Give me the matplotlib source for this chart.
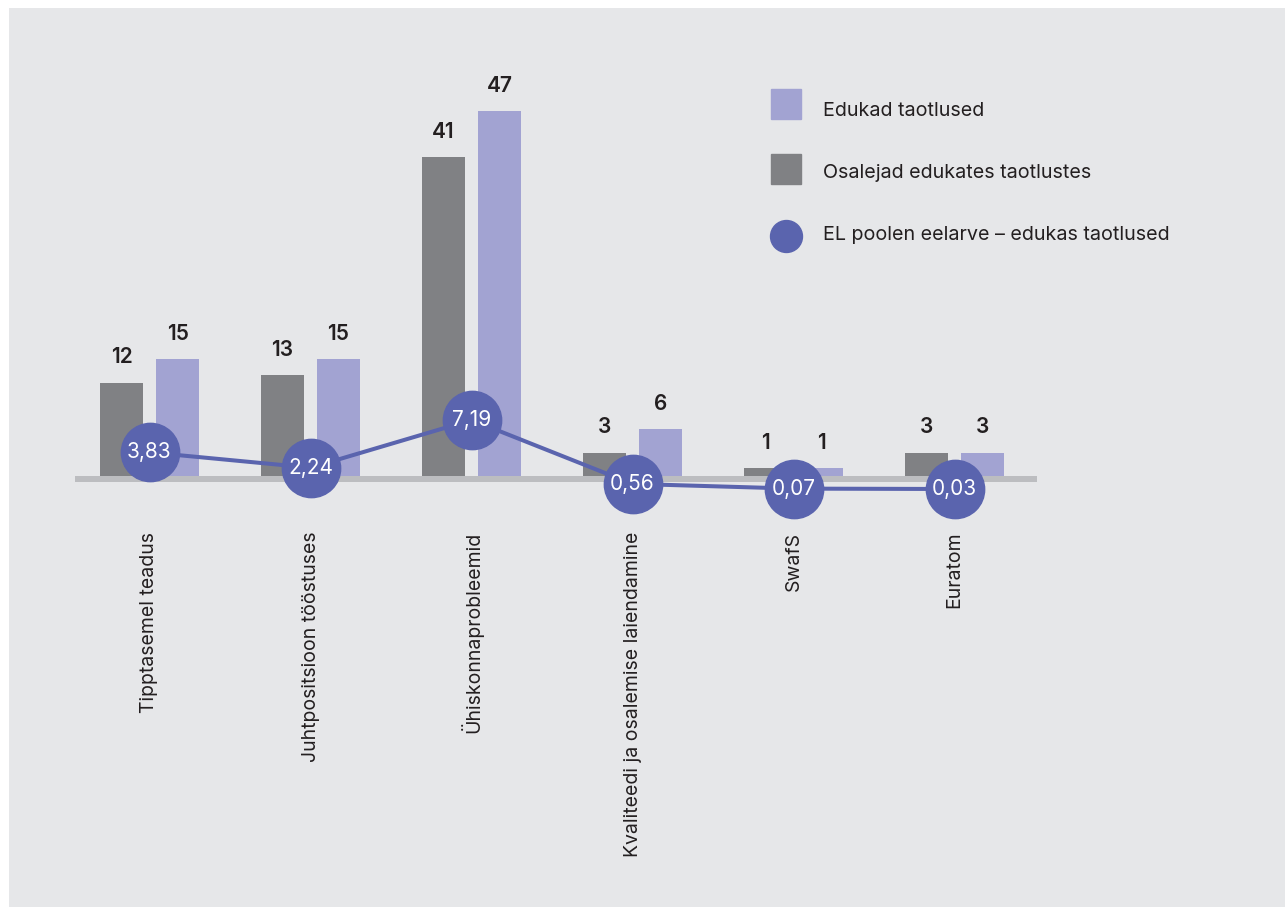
import matplotlib
matplotlib.use("Agg")
import matplotlib.pyplot as plt
from matplotlib.lines import Line2D
from matplotlib.patches import Rectangle
import numpy as np

categories = ["Tipptasemel teadus", "Juhtpositsioon tööstuses", "Ühiskonnaprobleemid",
              "Kvaliteedi ja osalemise laiendamine", "SwafS", "Euratom"]
osalejad = [12, 13, 41, 3, 1, 3]          # gray bars
edukad = [15, 15, 47, 6, 1, 3]            # lavender bars
eelarve = [3.83, 2.24, 7.19, 0.56, 0.07, 0.03]  # line / circles
eelarve_labels = ["3,83", "2,24", "7,19", "0,56", "0,07", "0,03"]

legend_labels = ["Edukad taotlused", "Osalejad edukates taotlustes",
                 "EL poolen eelarve – edukas taotlused"]

BG = "#e6e7e9"
GRAY = "#808184"
LAV = "#a2a3d2"
BLUE = "#5a64ae"
TXT = "#231f20"
FONT = ["Inter", "DejaVu Sans"]

plt.rcParams["font.family"] = FONT

W, H = 1285, 907
fig = plt.figure(figsize=(W / 100, H / 100), dpi=100)
fig.patch.set_facecolor("white")
fig.add_artist(Rectangle((9 / W, 0), 1, 1 - 8 / H, transform=fig.transFigure,
                         facecolor=BG, edgecolor="none", zorder=-10))

# axes placement in pixels
left_px, right_px = 75, 1037
base_px, top_px = 476, 60
ax = fig.add_axes([left_px / W, (H - base_px) / H, (right_px - left_px) / W,
                   (base_px - top_px) / H])
ax.set_facecolor("none")
ppu = 7.77
ax.set_ylim(0, (base_px - top_px) / ppu)
spacing = 161
c0 = 149.5
ax.set_xlim((left_px - c0) / spacing, (right_px - c0) / spacing)

x = np.arange(len(categories))
bw = 43 / spacing
off = 28 / spacing
b1 = ax.bar(x - off, osalejad, width=bw, color=GRAY, zorder=2)
b2 = ax.bar(x + off, edukad, width=bw, color=LAV, zorder=2)
for bars, vals in ((b1, osalejad), (b2, edukad)):
    for rect, v in zip(bars, vals):
        ax.annotate(str(v), (rect.get_x() + rect.get_width() / 2, v),
                    xytext=(0, 11), textcoords="offset points",
                    ha="center", va="bottom", fontsize=15, fontweight="semibold",
                    color=TXT)

# baseline strip just below the bars
ax.axhline(-3 / ppu, color="#bcbdc0", lw=4.3, zorder=1, solid_capstyle="butt",
           clip_on=False)
for s in ax.spines.values():
    s.set_visible(False)
ax.set_yticks([])
ax.set_xticks(x)
ax.set_xticklabels(categories, rotation=90, fontsize=14, color=TXT, va="top", ha="center")
ax.tick_params(axis="x", length=0, pad=40)

# secondary axis for line
ax2 = ax.twinx()
ax2.set_facecolor("none")
ppu2 = 9.637
y_at_base = 0.03 + (489 - base_px) / ppu2
ax2.set_ylim(y_at_base, y_at_base + (base_px - top_px) / ppu2)
ax2.set_yticks([])
for s in ax2.spines.values():
    s.set_visible(False)
ax2.plot(x, eelarve, color=BLUE, lw=2.9, marker="o", markersize=42,
         markerfacecolor=BLUE, markeredgecolor=BLUE, zorder=5, clip_on=False)
for xi, v, lab in zip(x, eelarve, eelarve_labels):
    ax2.text(xi, v, lab, ha="center", va="center", color="white",
             fontsize=15, zorder=6)

# legend drawn manually
leg_x_handle = 786 / W
leg_x_text = 823 / W
handle_y = [104, 169, 236]
text_y = [111, 173, 235]
handles = [("s", LAV), ("s", GRAY), ("o", BLUE)]
for (mk, col), lab, hy, ty in zip(handles, legend_labels, handle_y, text_y):
    fig.add_artist(Line2D([leg_x_handle], [1 - hy / H], marker=mk,
                          markersize=22 if mk == "s" else 23,
                          color=col, linestyle="none", transform=fig.transFigure))
    fig.text(leg_x_text, 1 - ty / H, lab, ha="left", va="center", fontsize=14.2,
             color=TXT)

fig.savefig("out.png", dpi=100, facecolor=fig.get_facecolor())
